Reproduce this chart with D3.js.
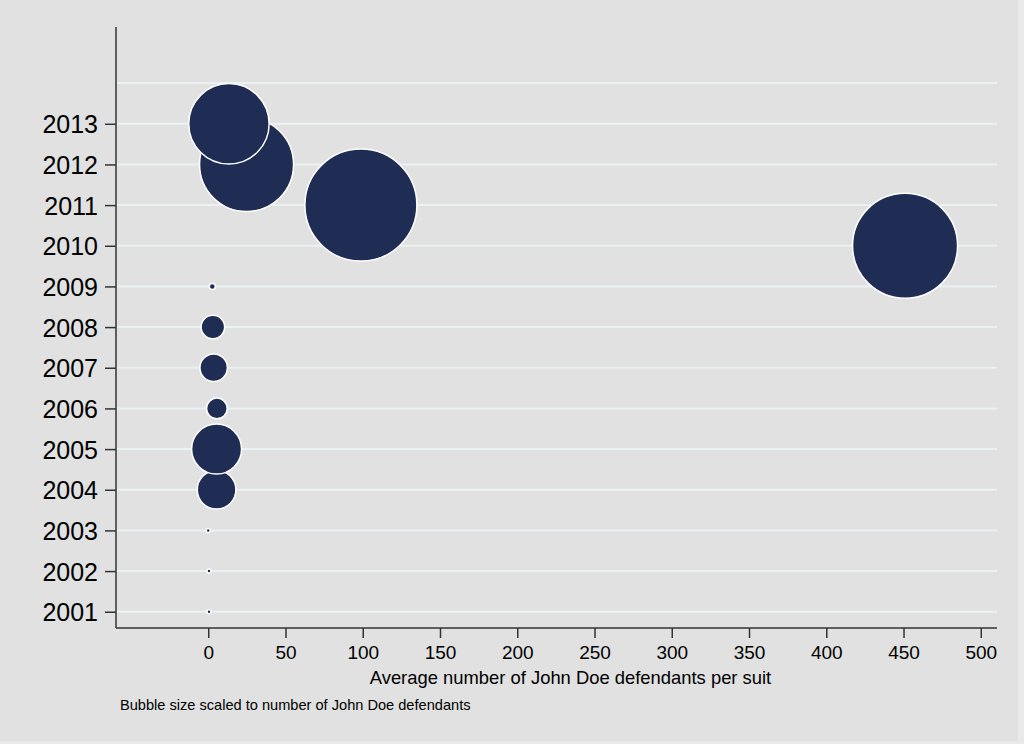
<!DOCTYPE html>
<html>
<head>
<meta charset="utf-8">
<script src="https://cdn.jsdelivr.net/npm/d3@7"></script>
<style>
html,body{margin:0;padding:0;background:#e9e9e9;}
svg{display:block;}
text{font-family:"Liberation Sans",Arial,Helvetica,sans-serif;fill:#000;}
</style>
</head>
<body>
<svg id="chart" width="1024" height="744"></svg>
<script>
// Data
const years = [2001,2002,2003,2004,2005,2006,2007,2008,2009,2010,2011,2012,2013];
const avgDefendants = [0.5,0.5,0,5.4,5.4,5.6,3.5,3,2.6,451,98.8,24.8,13.4];
const totalDefendants = [8,8,80,11900,19900,3400,6000,4400,290,87900,100000,70400,51500];
const xTicks = [0,50,100,150,200,250,300,350,400,450,500];
const yTicks = [2001,2002,2003,2004,2005,2006,2007,2008,2009,2010,2011,2012,2013];
const gridYears = [2001,2002,2003,2004,2005,2006,2007,2008,2009,2010,2011,2012,2013,2014];
const xTitle = "Average number of John Doe defendants per suit";
const note = "Bubble size scaled to number of John Doe defendants";

(function(){
const svg = d3.select("#chart");
svg.append("rect").attr("x",0).attr("y",0).attr("width",1018).attr("height",741).attr("fill","#e1e1e1");

const L = 116, R = 997, T = 27, B = 628;
const x = d3.scaleLinear().domain([-59.7, 510.5]).range([L, R]);
const y = d3.scaleLinear().domain([2000.6, 2015.38]).range([B, T]);
const r = d3.scaleSqrt().domain([0, d3.max(totalDefendants)]).range([0, 56]);

// gridlines
svg.append("g").selectAll("line").data(gridYears).join("line")
  .attr("x1", L+1).attr("x2", R)
  .attr("y1", d=>y(d)).attr("y2", d=>y(d))
  .attr("stroke","#eaf2f3").attr("stroke-width",2);

// bubbles
const data = years.map((yr,i)=>({yr, v:avgDefendants[i], n:totalDefendants[i]}));
svg.append("g").selectAll("circle").data(data).join("circle")
  .attr("cx", d=>x(d.v)).attr("cy", d=>y(d.yr))
  .attr("r", d=>Math.max(r(d.n),2))
  .attr("fill","#1f2d54").attr("stroke","#ffffff").attr("stroke-width",1.5);

// y axis
const yAxis = d3.axisLeft(y).tickValues(yTicks).tickFormat(d3.format("d")).tickSize(11).tickPadding(7);
const gy = svg.append("g").attr("transform",`translate(${L},0)`).call(yAxis);
gy.select(".domain").attr("d",`M0,${T}V${B}`).attr("stroke","#333").attr("stroke-width",1.5);
gy.selectAll(".tick line").attr("stroke","#333").attr("stroke-width",1.5);
gy.selectAll(".tick text").attr("font-size",25).attr("font-family","Liberation Sans, Arial, sans-serif").attr("fill","#000").attr("dy","0.36em");

// x axis
const xAxis = d3.axisBottom(x).tickValues(xTicks).tickFormat(d3.format("d")).tickSize(10).tickPadding(8);
const gx = svg.append("g").attr("transform",`translate(0,${B})`).call(xAxis);
gx.select(".domain").attr("d",`M${L},0H${R}`).attr("stroke","#333").attr("stroke-width",1.5);
gx.selectAll(".tick line").attr("stroke","#333").attr("stroke-width",1.5);
gx.selectAll(".tick text").attr("font-size",19).attr("font-family","Liberation Sans, Arial, sans-serif").attr("fill","#000");

svg.append("text").attr("x",(370+771)/2).attr("y",684).attr("text-anchor","middle")
  .attr("font-size",18.4).text(xTitle);
svg.append("text").attr("x",120).attr("y",710).attr("font-size",14.6).text(note);
})();
</script>
</body>
</html>
